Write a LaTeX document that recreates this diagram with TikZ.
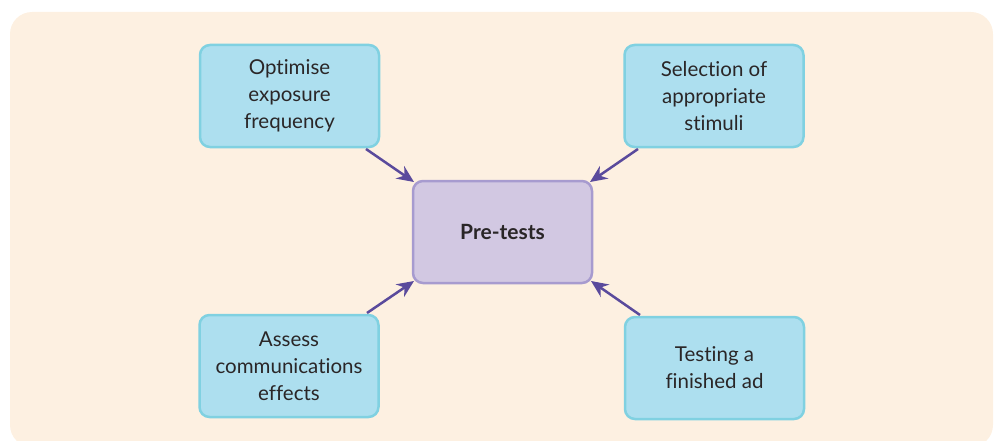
\documentclass[tikz,border=0pt]{standalone}
\usepackage{fontspec}
\setmainfont[Ligatures=NoCommon]{Lato}
\usetikzlibrary{arrows.meta}
\definecolor{bgc}{HTML}{FDF0E1}
\definecolor{boxfill}{HTML}{ADDFEF}
\definecolor{boxline}{HTML}{80D1E1}
\definecolor{cfill}{HTML}{D2C8E2}
\definecolor{cline}{HTML}{A79BCF}
\definecolor{arr}{HTML}{5A4A9C}
\definecolor{txt}{HTML}{2A2627}
\tikzset{
  x=1pt, y=-1pt,
  sidebox/.style={draw=boxline, fill=boxfill, line width=2.5pt, rounded corners=10pt,
    minimum width=179pt, minimum height=102pt, inner sep=0pt, align=center,
    text=txt, font=\fontsize{20.5}{27}\selectfont},
  centerbox/.style={draw=cline, fill=cfill, line width=2.5pt, rounded corners=10pt,
    minimum width=179pt, minimum height=102pt, inner sep=0pt, align=center,
    text=txt, font=\fontsize{21}{27}\selectfont\bfseries},
  link/.style={draw=arr, line width=2.5pt, -{Stealth[length=17pt,width=15pt]}}
}
\begin{document}
\begin{tikzpicture}
\useasboundingbox (0,0) rectangle (995,441);
\clip (0,0) rectangle (995,441);
\fill[bgc, rounded corners=22pt] (10,12) rectangle (993,447);
\node[centerbox] (c) at (502.5,232) {Pre-tests};
\node[sidebox] (tl) at (289.5,96) {Optimise\\exposure\\frequency};
\node[sidebox] (tr) at (714,96) {Selection of\\appropriate\\stimuli};
\node[sidebox] (bl) at (289,366) {Assess\\communications\\effects};
\node[sidebox] (br) at (714.5,368) {Testing a\\finished ad};
\coordinate (tls) at (366,149);
\coordinate (trs) at (638,149);
\coordinate (bls) at (367,313);
\coordinate (brs) at (640,315);
\coordinate (tle) at (414,182);
\coordinate (tre) at (590,182);
\coordinate (ble) at (414,281);
\coordinate (bre) at (591,281);
\draw[link] (tls) -- (tle);
\draw[link] (trs) -- (tre);
\draw[link] (bls) -- (ble);
\draw[link] (brs) -- (bre);
\end{tikzpicture}
\end{document}
